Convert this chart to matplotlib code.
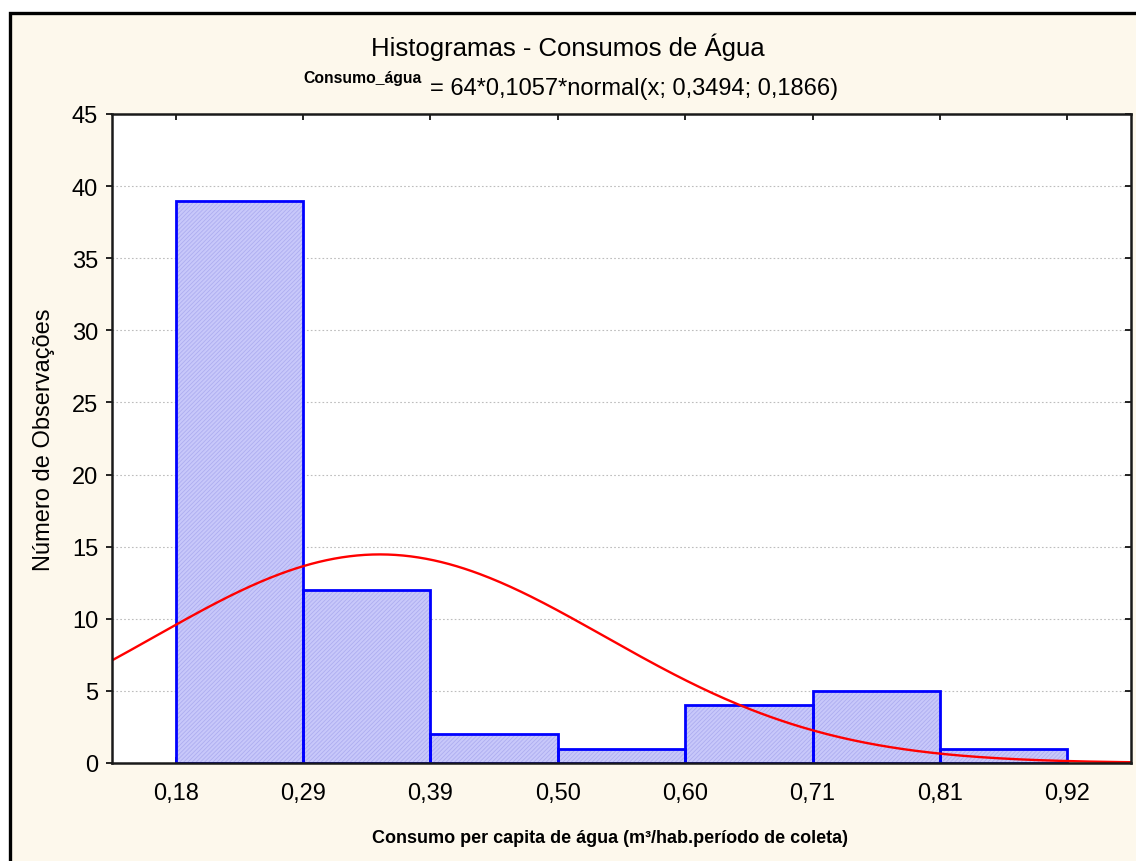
import matplotlib
matplotlib.use("Agg")
import matplotlib.pyplot as plt
import matplotlib.lines as mlines
import numpy as np
from matplotlib.patches import Rectangle

# Histogram of per-capita water consumption with fitted normal curve
bin_start = 0.18
bin_width = 0.1057
counts = [39, 12, 2, 1, 4, 5, 1]
n_obs = 64
fit_mean = 0.3494
fit_sd = 0.1866
y_ticks = [0, 5, 10, 15, 20, 25, 30, 35, 40, 45]

plt.rcParams["font.family"] = ["Liberation Sans", "DejaVu Sans"]
plt.rcParams["hatch.linewidth"] = 0.6

W, H, DPI = 1136, 862, 100
fig = plt.figure(figsize=(W / DPI, H / DPI), dpi=DPI, facecolor="white")

# cream panel with black frame (runs past right/bottom edges)
frame = Rectangle((9.5 / W, -0.05), 1.1, 1 - 14 / H + 0.05,
                  transform=fig.transFigure, facecolor="#FDF8EC",
                  edgecolor="black", linewidth=2.4, zorder=-10)
fig.patches.append(frame)

ax = fig.add_axes([112 / W, 1 - 764 / H, (1131 - 112) / W, (764 - 115) / H])
ax.set_facecolor("white")

edges = bin_start + bin_width * np.arange(len(counts) + 1)
# fill, fine hatch, then blue outline on top
ax.bar(edges[:-1], counts, width=bin_width, align="edge",
       facecolor="#C8C8FA", linewidth=0, zorder=2)
ax.bar(edges[:-1], counts, width=bin_width, align="edge",
       facecolor="none", edgecolor="#ADADF0", linewidth=0,
       hatch="////////", zorder=2.1)
ax.bar(edges[:-1], counts, width=bin_width, align="edge",
       facecolor="none", edgecolor="#0000FF", linewidth=2.0, zorder=2.2)

xlo = edges[0] - bin_width / 2
xhi = edges[-1] + bin_width / 2
xs = np.linspace(xlo, xhi, 400)
curve = n_obs * bin_width * np.exp(-0.5 * ((xs - fit_mean) / fit_sd) ** 2) / (fit_sd * np.sqrt(2 * np.pi))
ax.plot(xs, curve, color="#FF0000", linewidth=1.7, zorder=3)

ax.set_xlim(xlo, xhi)
ax.set_ylim(0, 45)
ax.set_yticks(y_ticks)
ax.set_yticklabels([str(v) for v in y_ticks], fontsize=17)
ax.set_xticks(edges)
ax.set_xticklabels([f"{e:.2f}".replace(".", ",") for e in edges], fontsize=17)
ax.yaxis.grid(True, linestyle=(0, (1.5, 2)), color="#BDBDBD", linewidth=0.8, zorder=1)

ax.tick_params(axis="y", which="both", direction="out", length=4, width=1.2,
               right=True, pad=6)
ax.tick_params(axis="x", which="both", direction="in", length=4, width=1.2,
               top=True, pad=14)
# right-hand ticks point into the plot
for tick in ax.yaxis.get_major_ticks():
    tick.tick2line.set_marker(mlines.TICKLEFT)
for spine in ax.spines.values():
    spine.set_linewidth(1.8)
    spine.set_color("#1A1A1A")
    spine.set_zorder(4)

ax.set_ylabel("Número de Observações", fontsize=17, labelpad=12)
ax.set_xlabel("Consumo per capita de água (m³/hab.período de coleta)",
              fontsize=13, fontweight="bold")
ax.xaxis.set_label_coords((610 - 112) / (1131 - 112), -(830 - 764) / (764 - 115))

fig.text(568 / W, 1 - 47 / H, "Histogramas - Consumos de Água",
         fontsize=18.5, ha="center", va="center")
fig.text(422 / W, 1 - 83 / H, "Consumo_água", fontsize=11.3,
         fontweight="bold", ha="right", va="baseline")
fig.text(430 / W, 1 - 95 / H, "= 64*0,1057*normal(x; 0,3494; 0,1866)",
         fontsize=17, ha="left", va="baseline")

fig.savefig("out.png", dpi=DPI, facecolor=fig.get_facecolor())
